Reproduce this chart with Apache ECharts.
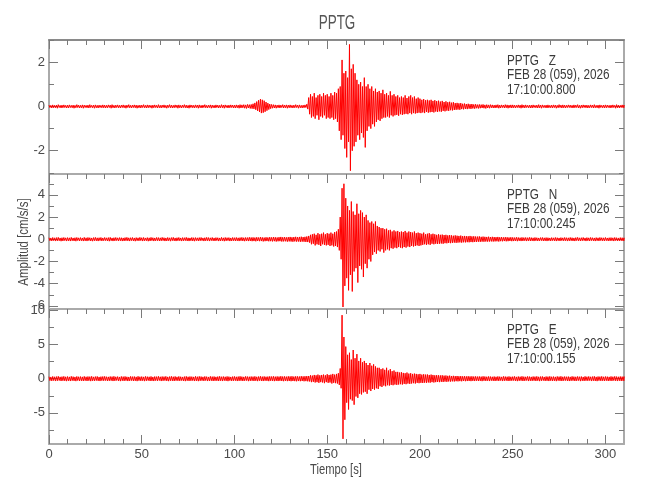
<!DOCTYPE html>
<html><head><meta charset="utf-8">
<script src="https://cdn.jsdelivr.net/npm/echarts@6/dist/echarts.min.js"></script>
<style>html,body{margin:0;padding:0;background:#fff}#c{width:650px;height:500px}</style>
</head><body><div id="c"></div>
<script>
// ---------------- data ----------------
const titleText = 'PPTG';
const stationLabels = ['PPTG   Z', 'PPTG   N', 'PPTG   E'];
const dateLabel = 'FEB 28 (059), 2026';
const startLabels = ['17:10:00.800', '17:10:00.245', '17:10:00.155'];
const xAxisTitle = 'Tiempo [s]';
const yAxisTitle = 'Amplitud [cm/s/s]';
const xMajorTicks = [0, 50, 100, 150, 200, 250, 300];
const xMinorTicks = [10,20,30,40,60,70,80,90,110,120,130,140,160,170,180,190,210,220,230,240,260,270,280,290];
const yMajorZ = [-2, 0, 2];
const yMinorZ = [-3, -1, 1, 3];
const yMajorN = [-6, -4, -2, 0, 2, 4];
const yMinorN = [-5, -3, -1, 1, 3, 5];
const yMajorE = [-5, 0, 5, 10];
const yMinorE = [-7.5, -2.5, 2.5, 7.5];

// sample times (s), one per second 0..310
const times = Array.from({length: 311}, (_, i) => i);

// per-second positive / negative peak amplitudes
const zUp = [
.06,.05,.07,.05,.06,.08,.05,.06,.07,.05,
.06,.07,.05,.06,.05,.08,.06,.05,.07,.06,
.05,.06,.08,.05,.06,.07,.05,.06,.05,.07,
.06,.05,.07,.06,.08,.05,.06,.07,.05,.06,
.07,.05,.06,.08,.05,.06,.07,.06,.05,.06,
.06,.08,.05,.07,.06,.05,.06,.07,.05,.08,
.05,.06,.07,.05,.06,.08,.06,.05,.07,.06,
.07,.05,.06,.08,.06,.05,.07,.06,.05,.07,
.06,.07,.05,.06,.08,.05,.06,.07,.06,.05,
.07,.06,.05,.08,.06,.07,.05,.06,.07,.06,
.06,.07,.06,.08,.07,.08,.07,.09,.08,.09,
.12,.16,.22,.28,.33,.3,.26,.2,.15,.11,
.09,.08,.07,.06,.07,.06,.08,.06,.07,.06,
.07,.05,.06,.08,.06,.07,.05,.06,.07,.1,
.4,.55,.45,.6,.4,.5,.55,.45,.6,.5,
.55,.45,.6,.5,.65,.6,.8,.9,2.1,1.5,
1.6,1.3,2.8,1.7,1.9,1.5,1.2,1.0,1.1,.9,
1.3,.9,1.0,.8,.9,.7,.8,.65,.7,.6,
.75,.55,.6,.5,.68,.5,.55,.45,.5,.4,
.45,.4,.5,.38,.45,.5,.4,.45,.35,.4,
.35,.3,.33,.28,.3,.27,.3,.25,.28,.24,
.26,.22,.25,.2,.23,.19,.21,.17,.19,.15,
.16,.14,.15,.12,.13,.11,.12,.1,.11,.09,
.1,.08,.09,.08,.09,.07,.08,.07,.08,.07,
.06,.07,.08,.06,.07,.06,.08,.07,.06,.07,
.07,.06,.05,.07,.06,.08,.06,.07,.05,.06,
.06,.07,.05,.06,.08,.06,.07,.05,.06,.07,
.05,.06,.07,.06,.05,.08,.06,.07,.06,.05,
.07,.06,.05,.07,.06,.08,.05,.06,.07,.06,
.06,.05,.07,.06,.08,.05,.06,.07,.05,.06,
.07,.06,.05,.06,.07,.05,.08,.06,.05,.07,
.06];
const zLo = [
-.05,-.07,-.06,-.06,-.08,-.05,-.07,-.06,-.05,-.07,
-.07,-.05,-.06,-.08,-.06,-.05,-.07,-.06,-.08,-.05,
-.06,-.07,-.05,-.06,-.08,-.06,-.07,-.05,-.06,-.06,
-.07,-.06,-.05,-.08,-.06,-.07,-.05,-.06,-.07,-.05,
-.06,-.08,-.05,-.06,-.07,-.05,-.06,-.08,-.06,-.07,
-.05,-.06,-.07,-.06,-.05,-.08,-.06,-.05,-.07,-.06,
-.07,-.05,-.06,-.08,-.05,-.06,-.07,-.06,-.05,-.08,
-.06,-.07,-.05,-.06,-.07,-.08,-.05,-.06,-.07,-.05,
-.08,-.06,-.07,-.05,-.06,-.07,-.05,-.08,-.06,-.07,
-.05,-.07,-.06,-.06,-.08,-.05,-.07,-.06,-.05,-.07,
-.07,-.06,-.08,-.07,-.06,-.08,-.09,-.07,-.09,-.1,
-.11,-.15,-.2,-.25,-.3,-.28,-.24,-.19,-.14,-.1,
-.08,-.07,-.08,-.06,-.07,-.05,-.07,-.06,-.08,-.06,
-.06,-.07,-.06,-.05,-.08,-.06,-.07,-.06,-.05,-.12,
-.35,-.5,-.45,-.55,-.4,-.6,-.45,-.5,-.4,-.55,
-.5,-.55,-.5,-.6,-.55,-.7,-1.1,-1.5,-1.3,-1.9,
-2.3,-1.6,-2.9,-2.0,-1.8,-1.6,-1.3,-1.5,-1.2,-1.4,
-1.85,-1.1,-.9,-1.0,-.8,-.9,-.7,-.6,-.65,-.55,
-.5,-.5,-.45,-.5,-.4,-.45,-.4,-.38,-.42,-.35,
-.38,-.35,-.33,-.35,-.3,-.35,-.3,-.32,-.3,-.28,
-.3,-.27,-.3,-.25,-.28,-.26,-.25,-.27,-.23,-.25,
-.22,-.24,-.2,-.22,-.19,-.2,-.17,-.18,-.16,-.15,
-.14,-.15,-.12,-.13,-.11,-.12,-.1,-.11,-.09,-.1,
-.08,-.09,-.08,-.07,-.08,-.09,-.07,-.08,-.06,-.07,
-.07,-.06,-.08,-.07,-.05,-.07,-.06,-.08,-.06,-.07,
-.06,-.07,-.05,-.06,-.08,-.06,-.07,-.05,-.06,-.07,
-.07,-.05,-.06,-.07,-.06,-.08,-.05,-.06,-.07,-.06,
-.06,-.07,-.05,-.08,-.06,-.05,-.07,-.06,-.07,-.05,
-.05,-.06,-.07,-.06,-.05,-.07,-.08,-.06,-.05,-.06,
-.07,-.06,-.05,-.07,-.06,-.06,-.08,-.05,-.06,-.07,
-.06,-.05,-.07,-.06,-.05,-.08,-.06,-.07,-.05,-.06,
-.06];
const nUp = [
.14,.12,.16,.13,.15,.17,.12,.14,.16,.13,
.15,.13,.17,.12,.14,.16,.13,.15,.12,.17,
.13,.16,.14,.12,.15,.17,.13,.14,.16,.12,
.16,.13,.15,.17,.12,.14,.16,.13,.15,.14,
.12,.15,.17,.13,.14,.16,.12,.15,.13,.17,
.14,.16,.12,.15,.13,.17,.14,.12,.16,.15,
.13,.17,.14,.12,.16,.13,.15,.17,.12,.14,
.16,.12,.15,.14,.17,.13,.12,.16,.14,.15,
.13,.15,.16,.12,.14,.17,.15,.13,.16,.12,
.15,.14,.12,.17,.13,.16,.14,.15,.12,.16,
.14,.16,.13,.15,.17,.14,.16,.15,.18,.16,
.17,.15,.18,.16,.19,.17,.15,.18,.16,.19,
.17,.2,.18,.16,.19,.21,.18,.2,.17,.19,
.21,.18,.2,.22,.19,.21,.23,.2,.22,.25,
.3,.4,.45,.5,.4,.55,.45,.5,.6,.45,
.55,.5,.6,.5,.65,.7,.9,2.0,4.6,5.0,
3.7,3.0,2.6,3.4,2.5,2.2,3.2,2.3,2.6,2.4,
2.0,2.2,1.7,1.5,1.6,1.4,1.6,1.2,1.1,1.0,
1.0,.9,.95,.8,.85,.7,.8,.7,.75,.65,
.7,.65,.75,.6,.7,.65,.6,.7,.55,.6,
.55,.5,.6,.45,.5,.55,.45,.5,.45,.4,
.45,.4,.42,.38,.4,.35,.38,.35,.32,.35,
.32,.3,.33,.28,.3,.28,.27,.3,.26,.27,
.25,.24,.26,.22,.24,.22,.21,.23,.2,.22,
.2,.19,.21,.18,.2,.17,.19,.18,.16,.18,
.17,.15,.18,.16,.14,.17,.15,.16,.14,.17,
.15,.13,.16,.14,.12,.15,.16,.13,.15,.14,
.12,.15,.13,.16,.14,.12,.15,.13,.16,.14,
.13,.16,.14,.12,.15,.17,.13,.14,.16,.12,
.15,.13,.16,.14,.12,.15,.13,.16,.14,.13,
.16,.12,.14,.15,.13,.16,.14,.12,.15,.14,
.13];
const nLo = [
-.13,-.15,-.12,-.16,-.14,-.13,-.17,-.15,-.12,-.16,
-.14,-.16,-.13,-.15,-.17,-.12,-.15,-.13,-.16,-.14,
-.16,-.12,-.15,-.17,-.13,-.14,-.16,-.12,-.15,-.13,
-.12,-.15,-.17,-.13,-.16,-.14,-.12,-.15,-.13,-.16,
-.15,-.13,-.14,-.16,-.12,-.15,-.17,-.13,-.14,-.12,
-.16,-.14,-.13,-.17,-.15,-.12,-.16,-.14,-.13,-.15,
-.14,-.12,-.16,-.15,-.13,-.17,-.12,-.14,-.16,-.13,
-.13,-.16,-.14,-.12,-.15,-.16,-.13,-.15,-.17,-.12,
-.15,-.13,-.12,-.16,-.14,-.13,-.16,-.12,-.14,-.15,
-.12,-.16,-.15,-.13,-.17,-.14,-.12,-.16,-.15,-.13,
-.15,-.14,-.16,-.13,-.15,-.17,-.14,-.16,-.15,-.17,
-.16,-.18,-.15,-.17,-.16,-.19,-.17,-.16,-.18,-.17,
-.19,-.17,-.2,-.18,-.17,-.2,-.19,-.18,-.21,-.19,
-.2,-.22,-.19,-.21,-.2,-.23,-.21,-.22,-.24,-.25,
-.3,-.45,-.4,-.55,-.45,-.5,-.6,-.45,-.5,-.55,
-.5,-.6,-.55,-.65,-.6,-.7,-1.0,-1.8,-6.1,-4.2,
-3.5,-4.6,-3.2,-4.7,-2.9,-2.6,-3.9,-2.4,-2.7,-3.4,
-2.2,-2.6,-1.8,-2.0,-1.4,-1.15,-1.3,-1.0,-1.1,-.9,
-1.2,-1.0,-.9,-1.0,-.8,-.85,-.75,-.8,-.7,-.75,
-.8,-.7,-.75,-.65,-.7,-.6,-.65,-.6,-.55,-.6,
-.55,-.5,-.45,-.5,-.45,-.5,-.4,-.45,-.4,-.42,
-.4,-.38,-.4,-.35,-.36,-.33,-.35,-.32,-.3,-.32,
-.3,-.28,-.3,-.27,-.28,-.26,-.27,-.25,-.26,-.24,
-.24,-.22,-.23,-.21,-.22,-.2,-.21,-.2,-.19,-.2,
-.19,-.18,-.2,-.17,-.18,-.16,-.18,-.17,-.15,-.17,
-.16,-.15,-.17,-.14,-.16,-.15,-.13,-.16,-.14,-.15,
-.14,-.16,-.13,-.15,-.14,-.12,-.15,-.14,-.16,-.13,
-.15,-.12,-.14,-.16,-.13,-.15,-.12,-.14,-.13,-.16,
-.14,-.13,-.15,-.16,-.12,-.14,-.15,-.13,-.12,-.16,
-.13,-.15,-.12,-.14,-.16,-.13,-.15,-.12,-.14,-.15,
-.12,-.15,-.14,-.13,-.16,-.12,-.15,-.14,-.13,-.15,
-.14];
const eUp = [
.3,.26,.33,.28,.31,.35,.27,.3,.34,.28,
.32,.27,.35,.3,.26,.33,.29,.31,.27,.34,
.28,.32,.3,.35,.27,.31,.33,.26,.3,.32,
.34,.29,.27,.32,.3,.35,.28,.31,.26,.33,
.3,.33,.28,.26,.34,.3,.32,.27,.35,.29,
.31,.27,.34,.3,.28,.33,.26,.32,.3,.35,
.28,.32,.3,.34,.27,.31,.35,.29,.33,.27,
.33,.29,.26,.31,.34,.28,.32,.3,.27,.35,
.29,.34,.31,.27,.33,.3,.26,.34,.3,.32,
.27,.31,.35,.29,.32,.28,.33,.3,.26,.31,
.33,.28,.31,.35,.3,.27,.34,.31,.29,.32,
.3,.34,.28,.32,.35,.3,.33,.29,.31,.34,
.32,.35,.3,.33,.31,.36,.32,.34,.3,.35,
.33,.36,.31,.35,.34,.32,.37,.34,.36,.38,
.4,.5,.45,.55,.5,.6,.5,.55,.6,.5,
.65,.55,.6,.7,.6,.7,.8,1.5,9.3,6.1,
4.7,3.5,3.8,2.8,4.2,3.0,3.6,2.6,3.0,2.4,
2.6,2.3,2.0,2.3,1.9,2.1,1.8,1.6,1.6,1.4,
1.5,1.3,1.6,1.2,1.4,1.1,1.2,1.0,1.0,.9,
.95,.85,.8,.9,.75,.8,.7,.75,.7,.65,
.7,.6,.65,.6,.62,.55,.6,.55,.5,.52,
.5,.48,.5,.45,.47,.42,.45,.4,.42,.38,
.4,.36,.38,.35,.37,.34,.36,.33,.35,.32,
.34,.31,.33,.3,.35,.32,.29,.33,.31,.28,
.32,.28,.33,.3,.27,.34,.31,.29,.33,.28,
.3,.34,.27,.32,.29,.35,.3,.28,.33,.31,
.27,.32,.3,.34,.28,.31,.33,.26,.32,.3,
.34,.29,.31,.27,.33,.3,.35,.28,.32,.29,
.31,.27,.34,.3,.28,.33,.29,.32,.26,.34,
.29,.33,.28,.31,.35,.27,.32,.3,.34,.28,
.32,.3,.27,.33,.29,.34,.31,.28,.32,.3,
.31];
const eLo = [
-.28,-.32,-.27,-.34,-.3,-.26,-.33,-.29,-.31,-.35,
-.3,-.34,-.28,-.31,-.35,-.27,-.32,-.3,-.33,-.28,
-.33,-.29,-.35,-.3,-.32,-.27,-.31,-.34,-.28,-.3,
-.27,-.33,-.3,-.28,-.34,-.31,-.26,-.32,-.35,-.29,
-.32,-.28,-.34,-.31,-.27,-.33,-.3,-.35,-.28,-.31,
-.29,-.35,-.3,-.27,-.33,-.31,-.34,-.28,-.32,-.26,
-.34,-.3,-.27,-.32,-.35,-.29,-.31,-.33,-.28,-.3,
-.31,-.27,-.33,-.35,-.29,-.32,-.3,-.28,-.34,-.31,
-.35,-.3,-.28,-.32,-.27,-.34,-.31,-.29,-.33,-.3,
-.3,-.33,-.29,-.34,-.28,-.31,-.35,-.27,-.32,-.3,
-.28,-.34,-.31,-.29,-.33,-.3,-.27,-.35,-.31,-.29,
-.33,-.3,-.35,-.28,-.32,-.34,-.29,-.31,-.35,-.3,
-.32,-.35,-.31,-.34,-.3,-.33,-.36,-.31,-.35,-.33,
-.36,-.33,-.35,-.37,-.34,-.36,-.33,-.37,-.35,-.38,
-.4,-.5,-.45,-.55,-.5,-.6,-.5,-.55,-.65,-.5,
-.6,-.55,-.7,-.6,-.65,-.7,-.9,-1.4,-8.8,-6.0,
-3.5,-4.5,-3.0,-3.2,-3.8,-2.6,-2.8,-2.2,-2.3,-2.0,
-1.9,-2.2,-1.6,-1.8,-1.5,-1.6,-1.4,-1.5,-1.1,-1.2,
-1.0,-1.1,-.95,-1.0,-.9,-.95,-.85,-.9,-.85,-.8,
-.85,-.75,-.8,-.7,-.75,-.7,-.65,-.7,-.6,-.65,
-.6,-.62,-.58,-.6,-.55,-.58,-.5,-.55,-.5,-.48,
-.5,-.45,-.47,-.42,-.45,-.4,-.42,-.38,-.4,-.36,
-.38,-.35,-.37,-.33,-.36,-.34,-.32,-.35,-.31,-.34,
-.3,-.33,-.31,-.35,-.29,-.32,-.3,-.34,-.28,-.31,
-.33,-.29,-.32,-.27,-.34,-.3,-.28,-.33,-.31,-.29,
-.27,-.32,-.35,-.3,-.28,-.33,-.31,-.26,-.34,-.3,
-.31,-.28,-.33,-.29,-.35,-.3,-.27,-.32,-.3,-.34,
-.29,-.33,-.3,-.35,-.28,-.31,-.33,-.29,-.27,-.32,
-.34,-.3,-.28,-.33,-.31,-.27,-.35,-.3,-.32,-.29,
-.3,-.27,-.34,-.29,-.32,-.35,-.28,-.31,-.3,-.33,
-.28,-.33,-.3,-.32,-.27,-.31,-.34,-.29,-.33,-.3,
-.31];

// ---------------- chart ----------------
const FONT = "'Liberation Sans','Arimo',sans-serif";
const TXT = '#4a4a4a';
const AXC = '#aaaaaa';
const TKC = '#7a7a7a';

function trace(up, lo) {
  const pts = [];
  for (let i = 0; i < times.length; i++) {
    pts.push([times[i], up[i]]);
    pts.push([Math.min(times[i] + 0.5, 310), lo[i]]);
  }
  return pts;
}

const panels = [
  {top: 40, height: 134, min: -3.05, max: 3.0, major: yMajorZ, minor: yMinorZ, up: zUp, lo: zLo},
  {top: 174, height: 135, min: -6.28, max: 5.88, major: yMajorN, minor: yMinorN, up: nUp, lo: nLo},
  {top: 309, height: 135, min: -9.55, max: 10.2, major: yMajorE, minor: yMinorE, up: eUp, lo: eLo}
];

const grid = [], xAxis = [], yAxis = [], series = [], graphic = [];

panels.forEach((p, g) => {
  grid.push({left: 49, right: 26, top: p.top, height: p.height, outerBoundsMode: 'none', containLabel: false});
  const xBase = {gridIndex: g, type: 'value', min: 0, max: 310, splitLine: {show: false}, axisLabel: {show: false}};
  const xMainIdx = xAxis.length;
  xAxis.push(Object.assign({}, xBase, {
    position: 'top',
    axisLine: {show: true, onZero: false, lineStyle: {color: g === 0 ? '#8a8a8a' : AXC, width: 2}},
    axisTick: {show: true, inside: true, length: 9, customValues: xMajorTicks, lineStyle: {color: TKC, width: 1}}
  }));
  xAxis.push(Object.assign({}, xBase, {
    position: 'top',
    axisLine: {show: false, onZero: false},
    axisTick: {show: true, inside: true, length: 5, customValues: xMinorTicks, lineStyle: {color: TKC, width: 1}}
  }));
  if (g === 2) {
    xAxis.push(Object.assign({}, xBase, {
      position: 'bottom',
      axisLine: {show: true, onZero: false, lineStyle: {color: AXC, width: 2}},
      axisTick: {show: true, inside: true, length: 9, customValues: xMajorTicks, lineStyle: {color: TKC, width: 1}},
      axisLabel: {show: true, customValues: xMajorTicks, margin: 4, fontFamily: FONT, fontSize: 13, color: TXT}
    }));
    xAxis.push(Object.assign({}, xBase, {
      position: 'bottom',
      axisLine: {show: false, onZero: false},
      axisTick: {show: true, inside: true, length: 5, customValues: xMinorTicks, lineStyle: {color: TKC, width: 1}}
    }));
  }
  const yBase = {gridIndex: g, type: 'value', min: p.min, max: p.max, splitLine: {show: false}, axisLabel: {show: false}};
  const yMainIdx = yAxis.length;
  yAxis.push(Object.assign({}, yBase, {
    position: 'left',
    axisLine: {show: true, onZero: false, lineStyle: {color: AXC, width: 2}},
    axisTick: {show: true, inside: true, length: 9, customValues: p.major, lineStyle: {color: TKC, width: 1}},
    axisLabel: {show: true, customValues: p.major, margin: 4, fontFamily: FONT, fontSize: 13, color: TXT}
  }));
  yAxis.push(Object.assign({}, yBase, {
    position: 'left',
    axisLine: {show: false, onZero: false},
    axisTick: {show: true, inside: true, length: 5, customValues: p.minor, lineStyle: {color: TKC, width: 1}}
  }));
  yAxis.push(Object.assign({}, yBase, {
    position: 'right',
    axisLine: {show: true, onZero: false, lineStyle: {color: AXC, width: 2}},
    axisTick: {show: true, inside: true, length: 9, customValues: p.major, lineStyle: {color: TKC, width: 1}}
  }));
  yAxis.push(Object.assign({}, yBase, {
    position: 'right',
    axisLine: {show: false, onZero: false},
    axisTick: {show: true, inside: true, length: 5, customValues: p.minor, lineStyle: {color: TKC, width: 1}}
  }));
  series.push({
    type: 'line', xAxisIndex: xMainIdx, yAxisIndex: yMainIdx,
    data: trace(p.up, p.lo), showSymbol: false, symbol: 'none', clip: false,
    sampling: null, lineStyle: {color: '#ff0000', width: 1}, silent: true, z: 1
  });
  const lines = [stationLabels[g], dateLabel, startLabels[g]];
  [21.5, 35.5, 50].forEach((dy, k) => {
    graphic.push({type: 'text', x: 507, y: p.top + dy, scaleX: 0.84, z: 10,
      style: {text: lines[k], fill: '#3a3a3a', font: '14px ' + FONT, align: 'left', verticalAlign: 'middle'}});
  });
});

graphic.push({type: 'text', x: 337, y: 23, scaleX: 0.64, z: 10,
  style: {text: titleText, fill: '#555', font: '21px ' + FONT, align: 'center', verticalAlign: 'middle'}});
graphic.push({type: 'text', x: 336, y: 470, scaleX: 0.8, z: 10,
  style: {text: xAxisTitle, fill: TXT, font: '14px ' + FONT, align: 'center', verticalAlign: 'middle'}});
graphic.push({type: 'text', x: 24, y: 242, rotation: Math.PI / 2, scaleX: 0.82, z: 10,
  style: {text: yAxisTitle, fill: TXT, font: '14px ' + FONT, align: 'center', verticalAlign: 'middle'}});

const chart = echarts.init(document.getElementById('c'), null, {renderer: 'canvas'});
chart.setOption({
  backgroundColor: '#ffffff',
  animation: false,
  grid, xAxis, yAxis, series, graphic
});
</script>
</body></html>
